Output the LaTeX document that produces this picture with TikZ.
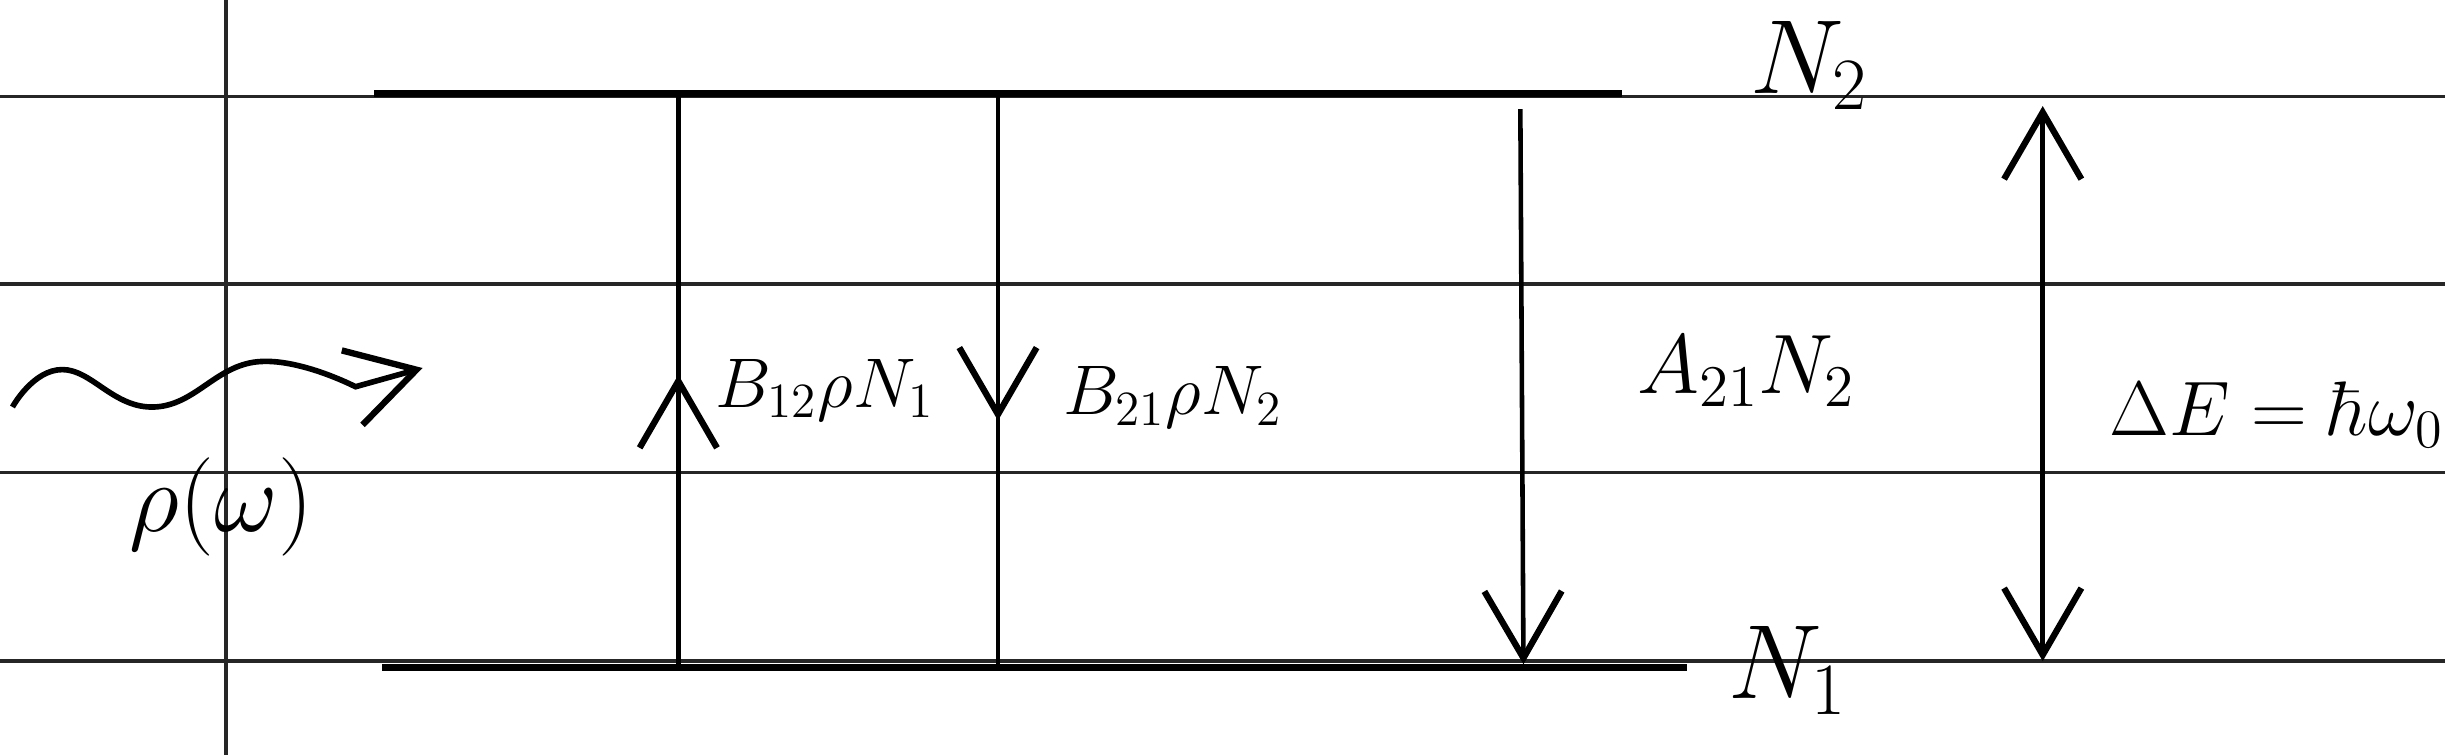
\documentclass[tikz,border=0pt]{standalone}
\usepackage{fix-cm}
\usepackage{amsmath}
\usetikzlibrary{%
  arrows.meta,
  decorations.markings
}

\begin{document}
\begin{tikzpicture}[x=0.01559cm,y=-0.01559cm,
  rule/.style={line width=1pt,black!85},
  level/.style={line width=2.2pt},
  trans/.style={line width=1.3pt},
  barb/.tip={Straight Barb[length=19pt,width=22pt,line width=1.8pt]},
  midtip/.style={postaction={decorate},
    decoration={markings,mark=at position #1 with {\arrow{barb}}}},
  lbl/.style={inner sep=0pt,font=\fontsize{#1pt}{#1pt}\selectfont}]
  \useasboundingbox (0,0) rectangle (1568,484);

  % ruled paper
  \foreach \r in {62,182,303,424}
    \draw[rule] (0,\r) -- (1568,\r);
  \draw[rule] (145,0) -- (145,484);

  % levels
  \def\yhi{60}
  \def\ylo{428}
  \coordinate (hiL) at (240,\yhi);
  \coordinate (hiR) at (1040,\yhi);
  \coordinate (loL) at (245,\ylo);
  \coordinate (loR) at (1082,\ylo);
  \draw[level] (hiL) -- (hiR);
  \draw[level] (loL) -- (loR);

  % transitions
  \coordinate (absB) at (435,\ylo);
  \coordinate (absT) at (435,\yhi);
  \coordinate (stiT) at (640,\yhi);
  \coordinate (stiB) at (640,\ylo);
  \coordinate (spoT) at (975,70);
  \coordinate (spoB) at (977,426);
  \coordinate (gapT) at (1310,68);
  \coordinate (gapB) at (1310,424);
  \draw[trans,midtip=0.51] (absB) -- (absT);
  \draw[trans,midtip=0.57] (stiT) -- (stiB);
  \draw[trans,-{barb}] (spoT) -- (spoB);
  \draw[trans,{barb}-{barb}] (gapB) -- (gapT);

  % incoming radiation
  \coordinate (w0) at (8,261);
  \coordinate (w1) at (271,236);
  \draw[trans,line width=1.6pt,-{barb}] plot[smooth,tension=0.75]
    coordinates {(w0) (40,237) (99,261) (165,232) (228,248)} -- (w1);

  \node[lbl=28] (rho) at (142,325) {$\rho(\omega)$};
  \node[lbl=20] (b12) at (529,250) {$B_{12}\rho N_1$};
  \node[lbl=20] (b21) at (752,255) {$B_{21}\rho N_2$};
  \node[lbl=24] (a21) at (1120,238) {$A_{21}N_2$};
  \node[lbl=22] (dE) at (1460,266) {$\Delta E\;{=}\;\hbar\omega_0$};
  \node[lbl=30,anchor=base west] (n2) at (1122,60) {$N_2$};
  \node[lbl=30,anchor=base west] (n1) at (1108,448) {$N_1$};

\end{tikzpicture}
\end{document}
